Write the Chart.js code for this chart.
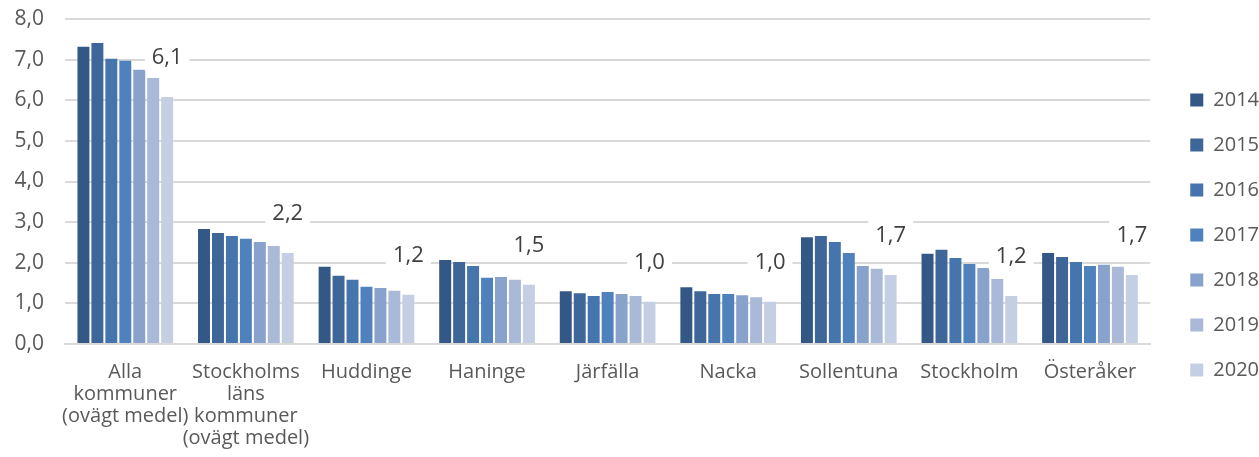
<!DOCTYPE html>
<html>
<head>
<meta charset="utf-8">
<script src="https://cdn.jsdelivr.net/npm/chart.js@4/dist/chart.umd.min.js"></script>
<style>
html,body{margin:0;padding:0;background:#fff;overflow:hidden;}
#wrap{width:1259px;height:457px;position:relative;}
</style>
</head>
<body>
<div id="wrap"><canvas id="c" width="1259" height="457" style="width:1259px;height:457px"></canvas></div>
<script>
const categories = [
  ["Alla","kommuner","(ovägt medel)"],
  ["Stockholms","läns","kommuner","(ovägt medel)"],
  "Huddinge","Haninge","Järfälla","Nacka","Sollentuna","Stockholm","Österåker"
];
const years = ["2014","2015","2016","2017","2018","2019","2020"];
const v2014 = [7.32,2.83,1.90,2.07,1.30,1.40,2.63,2.22,2.24];
const v2015 = [7.41,2.73,1.68,2.02,1.25,1.30,2.66,2.32,2.14];
const v2016 = [7.02,2.66,1.58,1.92,1.18,1.23,2.51,2.12,2.02];
const v2017 = [6.97,2.59,1.41,1.63,1.28,1.23,2.24,1.97,1.92];
const v2018 = [6.75,2.51,1.38,1.65,1.23,1.20,1.92,1.87,1.95];
const v2019 = [6.55,2.41,1.31,1.58,1.18,1.15,1.85,1.60,1.90];
const v2020 = [6.08,2.24,1.21,1.46,1.04,1.04,1.70,1.18,1.70];
const seriesValues = [v2014,v2015,v2016,v2017,v2018,v2019,v2020];
const colors = ["#345886","#3e6699","#4674ad","#4f81bd","#88a2cc","#aab9d8","#c5cfe3"];
const yTicks = [0,1,2,3,4,5,6,7,8];

const FONT = "'Open Sans', 'Liberation Sans', sans-serif";
const fmt = v => v.toFixed(1).replace('.', ',');

const labelPlugin = {
  id: 'lastLabels',
  afterDatasetsDraw(chart) {
    const ctx = chart.ctx;
    const di = chart.data.datasets.length - 1;
    const meta = chart.getDatasetMeta(di);
    ctx.save();
    ctx.font = "22px " + FONT;
    ctx.textAlign = 'center';
    ctx.textBaseline = 'middle';
    meta.data.forEach((el, i) => {
      const v = chart.data.datasets[di].data[i];
      const t = fmt(v);
      const y = el.y - 40;
      const w = ctx.measureText(t).width + 14;
      ctx.fillStyle = '#fff';
      ctx.fillRect(el.x - w/2, y - 14, w, 28);
      ctx.fillStyle = '#404040';
      ctx.fillText(t, el.x, y + 1);
    });
    ctx.restore();
  }
};

const legendShift = {
  id: 'legendShift',
  afterLayout(chart) {
    const lg = chart.legend;
    if (lg) {
      const dx = 15;
      lg.left += dx; lg.right += dx;
      const h = lg.bottom - lg.top;
      lg.top = (470 - h) / 2;
      lg.bottom = lg.top + h;
    }
  }
};

new Chart(document.getElementById('c'), {
  type: 'bar',
  data: {
    labels: categories,
    datasets: years.map((y, i) => ({
      label: y,
      data: seriesValues[i],
      backgroundColor: colors[i],
      categoryPercentage: 0.81,
      barPercentage: 0.857
    }))
  },
  options: {
    responsive: false,
    devicePixelRatio: 1,
    animation: false,
    layout: { padding: { left: 0, top: 19, right: 5, bottom: 0 } },
    plugins: {
      tooltip: { enabled: false },
      legend: {
        position: 'right',
        align: 'center',
        labels: {
          boxWidth: 13, boxHeight: 13,
          padding: 25,
          color: '#595959',
          font: { family: FONT, size: 20 }
        }
      }
    },
    scales: {
      x: {
        grid: { display: false, drawTicks: false },
        border: { display: true, color: '#d9d9d9', width: 2 },
        ticks: {
          color: '#595959', font: { family: FONT, size: 20, lineHeight: 1.1 },
          padding: 17, maxRotation: 0, autoSkip: false
        },
        afterFit(scale) { scale.height = 113; }
      },
      y: {
        min: 0, max: 8,
        afterBuildTicks(scale) { scale.ticks = yTicks.map(v => ({ value: v })); },
        grid: { color: '#d9d9d9', lineWidth: 2, drawTicks: false },
        border: { display: false },
        ticks: {
          color: '#595959', font: { family: FONT, size: 21 },
          padding: 21,
          callback: v => fmt(v)
        },
        afterFit(scale) { scale.width = 65; scale.paddingTop = 0; scale.paddingBottom = 0; }
      }
    }
  },
  plugins: [labelPlugin, legendShift]
});
</script>
</body>
</html>
